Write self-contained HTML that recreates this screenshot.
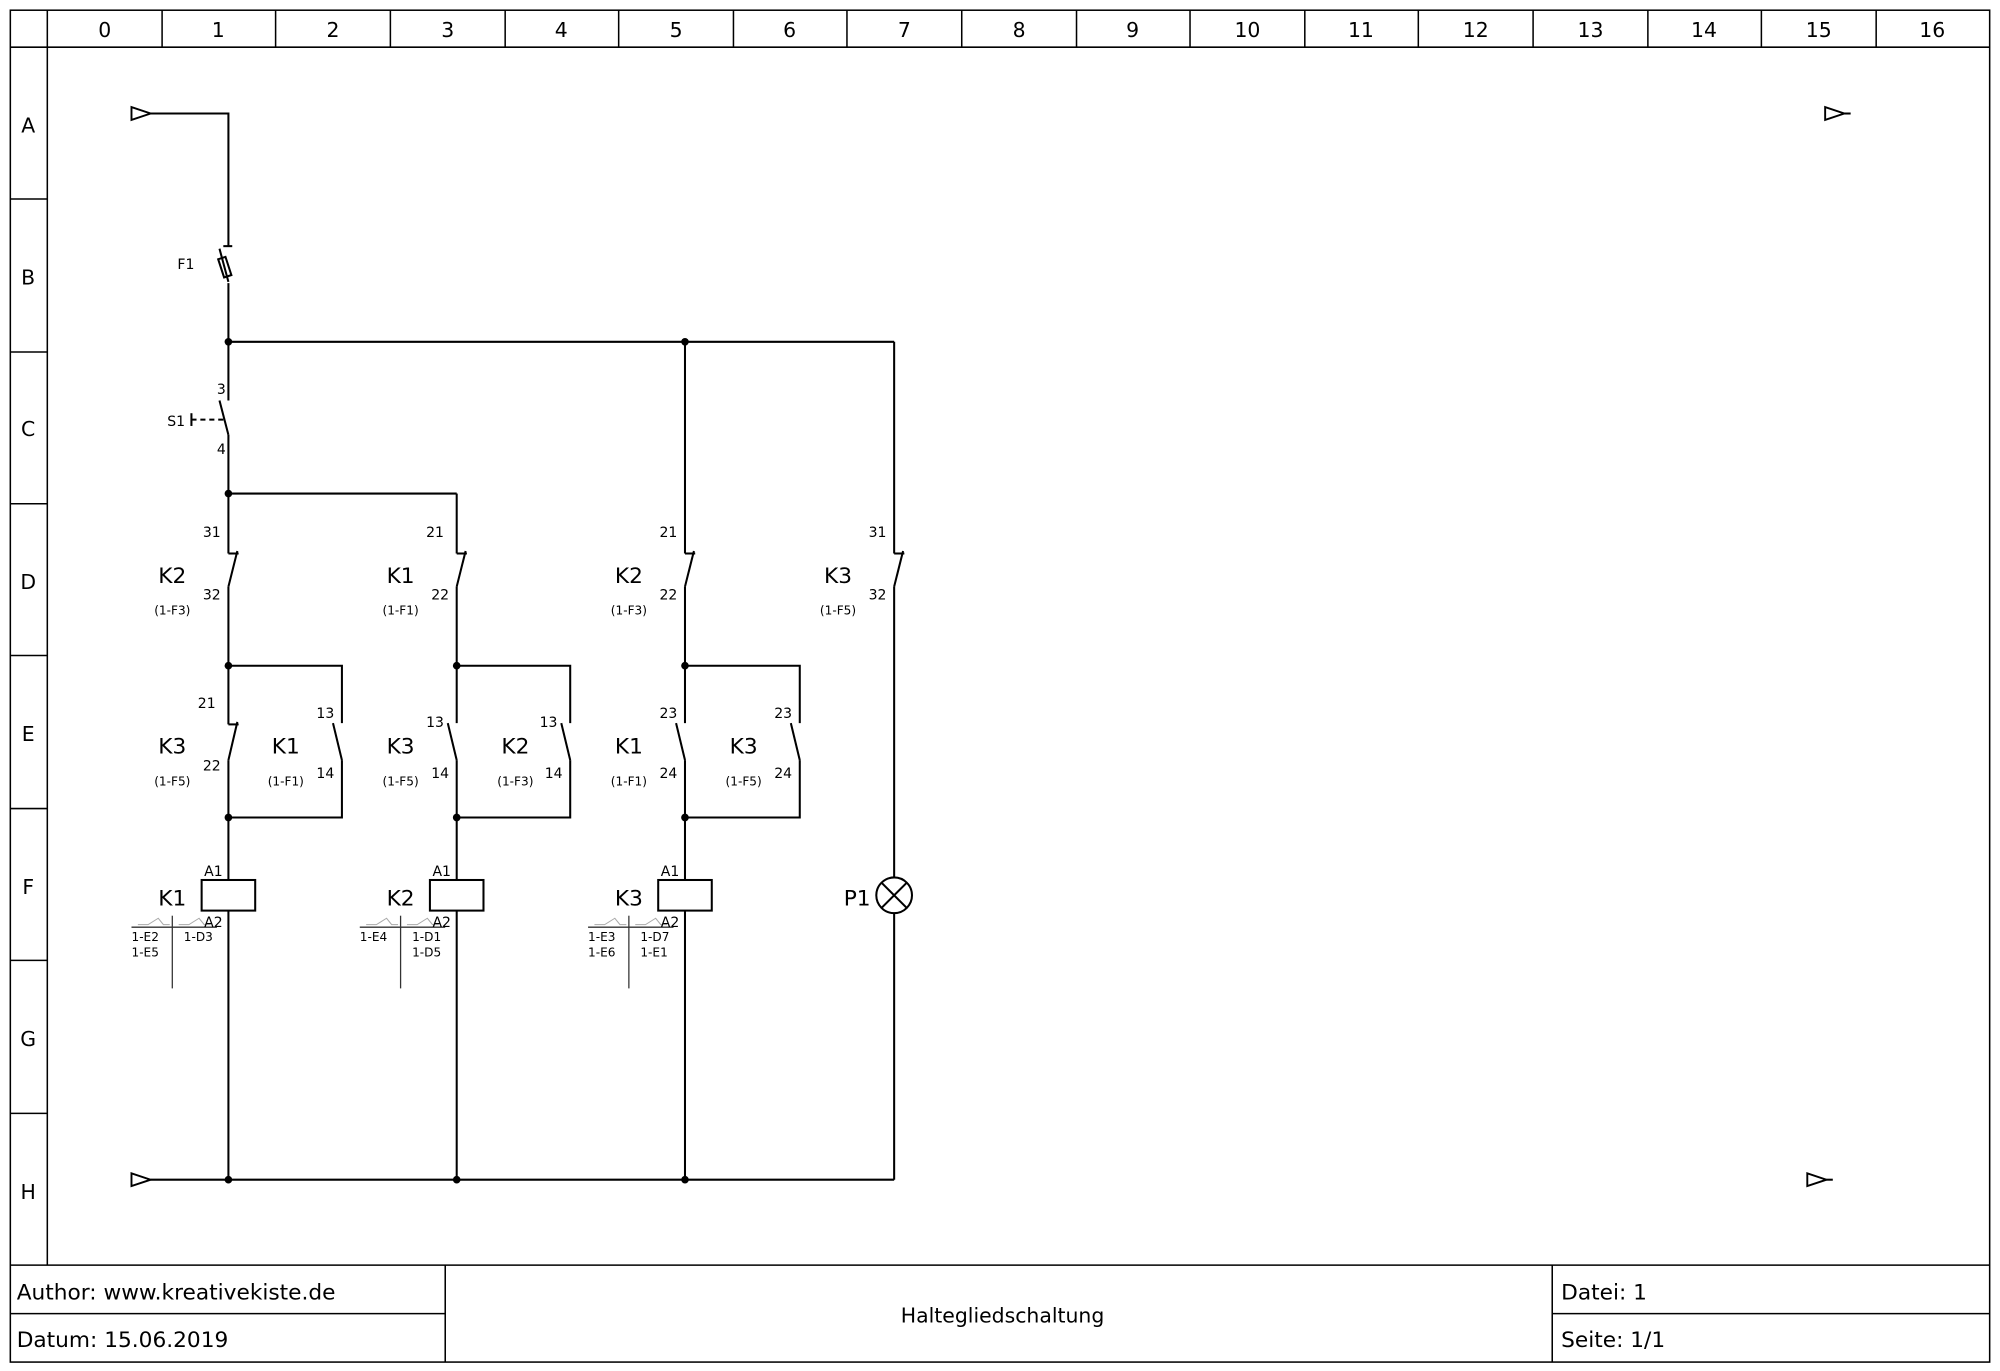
<!DOCTYPE html>
<html><head><meta charset="utf-8"><style>
html,body{margin:0;padding:0;background:#fff;}
svg{display:block;}
text{font-family:"DejaVu Sans","Liberation Sans",sans-serif;fill:#000;}
</style></head><body>
<svg width="2000" height="1371" viewBox="0 0 1568 1075" xmlns="http://www.w3.org/2000/svg">
<rect x="0" y="0" width="1568" height="1075" fill="#fff"/>
<g stroke="#000" stroke-width="1.2" fill="none">
<rect x="8" y="8" width="1552" height="1060"/>
<line x1="37" y1="8" x2="37" y2="992"/>
<line x1="8" y1="37" x2="1560" y2="37"/>
<line x1="8" y1="992" x2="1560" y2="992"/>
<line x1="8" y1="1030" x2="349" y2="1030"/>
<line x1="1217" y1="1030" x2="1560" y2="1030"/>
<line x1="349" y1="992" x2="349" y2="1068"/>
<line x1="1217" y1="992" x2="1217" y2="1068"/>
<line x1="127" y1="8" x2="127" y2="37"/><line x1="216" y1="8" x2="216" y2="37"/><line x1="306" y1="8" x2="306" y2="37"/><line x1="396" y1="8" x2="396" y2="37"/><line x1="485" y1="8" x2="485" y2="37"/><line x1="575" y1="8" x2="575" y2="37"/><line x1="664" y1="8" x2="664" y2="37"/><line x1="754" y1="8" x2="754" y2="37"/><line x1="844" y1="8" x2="844" y2="37"/><line x1="933" y1="8" x2="933" y2="37"/><line x1="1023" y1="8" x2="1023" y2="37"/><line x1="1112" y1="8" x2="1112" y2="37"/><line x1="1202" y1="8" x2="1202" y2="37"/><line x1="1292" y1="8" x2="1292" y2="37"/><line x1="1381" y1="8" x2="1381" y2="37"/><line x1="1471" y1="8" x2="1471" y2="37"/>
<line x1="8" y1="156" x2="37" y2="156"/><line x1="8" y1="276" x2="37" y2="276"/><line x1="8" y1="395" x2="37" y2="395"/><line x1="8" y1="514" x2="37" y2="514"/><line x1="8" y1="634" x2="37" y2="634"/><line x1="8" y1="753" x2="37" y2="753"/><line x1="8" y1="873" x2="37" y2="873"/>
</g>
<g font-size="16" text-anchor="middle">
<text x="82" y="29">0</text><text x="171" y="29">1</text><text x="261" y="29">2</text><text x="351" y="29">3</text><text x="440" y="29">4</text><text x="530" y="29">5</text><text x="619" y="29">6</text><text x="709" y="29">7</text><text x="799" y="29">8</text><text x="888" y="29">9</text><text x="978" y="29">10</text><text x="1067" y="29">11</text><text x="1157" y="29">12</text><text x="1247" y="29">13</text><text x="1336" y="29">14</text><text x="1426" y="29">15</text><text x="1515" y="29">16</text>
<text x="22" y="104">A</text><text x="22" y="223">B</text><text x="22" y="342">C</text><text x="22" y="462">D</text><text x="22" y="581">E</text><text x="22" y="701">F</text><text x="22" y="820">G</text><text x="22" y="940">H</text>
</g>
<g font-size="17">
<text x="13" y="1019">Author: www.kreativekiste.de</text>
<text x="13" y="1056">Datum: 15.06.2019</text>
<text x="1224" y="1019">Datei: 1</text>
<text x="1224" y="1056">Seite: 1/1</text>
<text x="786" y="1037" text-anchor="middle" font-size="16">Haltegliedschaltung</text>
</g>

<g stroke="#000" stroke-width="1.6" fill="none">
<polygon points="103,84 103,94 118,89" stroke-width="1.5"/>
<polyline points="118,89 179,89 179,193"/>
<line x1="175" y1="193" x2="182" y2="193"/>
<line x1="172" y1="195" x2="179" y2="221"/>
<rect x="-3" y="-7" width="6" height="15" transform="translate(176,209) rotate(-18)"/>
<line x1="179" y1="222" x2="179" y2="314"/>
<line x1="179" y1="268" x2="701" y2="268"/>
<line x1="537" y1="268" x2="537" y2="434"/>
<line x1="701" y1="268" x2="701" y2="434"/>
<line x1="172" y1="314" x2="179" y2="341"/>
<line x1="150" y1="324" x2="150" y2="334"/>
<line x1="150" y1="329" x2="175" y2="329" stroke-dasharray="4,3"/>
<line x1="179" y1="341" x2="179" y2="434"/>
<line x1="179" y1="387" x2="358" y2="387"/>
<line x1="358" y1="387" x2="358" y2="434"/>
<g transform="translate(179,0)"><line x1="0" y1="434" x2="8" y2="434"/><line x1="7" y1="432" x2="0" y2="460"/><line x1="0" y1="460" x2="0" y2="568"/></g>
<g transform="translate(358,0)"><line x1="0" y1="434" x2="8" y2="434"/><line x1="7" y1="432" x2="0" y2="460"/><line x1="0" y1="460" x2="0" y2="567"/></g>
<g transform="translate(537,0)"><line x1="0" y1="434" x2="8" y2="434"/><line x1="7" y1="432" x2="0" y2="460"/><line x1="0" y1="460" x2="0" y2="567"/></g>
<g transform="translate(701,0)"><line x1="0" y1="434" x2="8" y2="434"/><line x1="7" y1="432" x2="0" y2="460"/><line x1="0" y1="460" x2="0" y2="688"/></g>
<polyline points="179,522 268,522 268,567"/>
<polyline points="358,522 447,522 447,567"/>
<polyline points="537,522 627,522 627,567"/>
<line x1="179" y1="568" x2="187" y2="568"/><line x1="186" y1="566" x2="179" y2="596"/>
<line x1="261" y1="567" x2="268" y2="596"/>
<line x1="351" y1="567" x2="358" y2="596"/>
<line x1="440" y1="567" x2="447" y2="596"/>
<line x1="530" y1="567" x2="537" y2="596"/>
<line x1="620" y1="567" x2="627" y2="596"/>
<polyline points="268,596 268,641 179,641"/>
<polyline points="447,596 447,641 358,641"/>
<polyline points="627,596 627,641 537,641"/>
<line x1="179" y1="596" x2="179" y2="690"/>
<line x1="358" y1="596" x2="358" y2="690"/>
<line x1="537" y1="596" x2="537" y2="690"/>
<rect x="158" y="690" width="42" height="24"/>
<rect x="337" y="690" width="42" height="24"/>
<rect x="516" y="690" width="42" height="24"/>
<line x1="179" y1="714" x2="179" y2="925"/>
<line x1="358" y1="714" x2="358" y2="925"/>
<line x1="537" y1="714" x2="537" y2="925"/>
<circle cx="701" cy="702" r="14"/>
<line x1="691" y1="692" x2="711" y2="712"/><line x1="711" y1="692" x2="691" y2="712"/>
<line x1="701" y1="716" x2="701" y2="925"/>
<polygon points="103,920 103,930 118,925" stroke-width="1.5"/>
<line x1="118" y1="925" x2="701" y2="925"/>
<polygon points="1431,84 1431,94 1446,89" stroke-width="1.5"/>
<line x1="1446" y1="89" x2="1451" y2="89"/>
<polygon points="1417,920 1417,930 1432,925" stroke-width="1.5"/>
<line x1="1432" y1="925" x2="1437" y2="925"/>
</g>
<g fill="#000">
<circle cx="179" cy="268" r="3"/><circle cx="537" cy="268" r="3"/><circle cx="179" cy="387" r="3"/>
<circle cx="179" cy="522" r="3"/><circle cx="358" cy="522" r="3"/><circle cx="537" cy="522" r="3"/>
<circle cx="179" cy="641" r="3"/><circle cx="358" cy="641" r="3"/><circle cx="537" cy="641" r="3"/>
<circle cx="179" cy="925" r="3"/><circle cx="358" cy="925" r="3"/><circle cx="537" cy="925" r="3"/>
</g>
<g stroke="#333" stroke-width="1" fill="none">
<line x1="103" y1="727" x2="170" y2="727"/><line x1="135" y1="718" x2="135" y2="775"/>
<line x1="282" y1="727" x2="349" y2="727"/><line x1="314" y1="718" x2="314" y2="775"/>
<line x1="461" y1="727" x2="528" y2="727"/><line x1="493" y1="718" x2="493" y2="775"/>
</g>
<g stroke="#aaa" stroke-width="0.8" fill="none">
<polyline points="108,725 116,725 124,720 128,725 133,725"/><polyline points="140,725 148,725 156,720 160,725 165,725"/>
<polyline points="287,725 295,725 303,720 307,725 312,725"/><polyline points="319,725 327,725 335,720 339,725 344,725"/>
<polyline points="466,725 474,725 482,720 486,725 491,725"/><polyline points="498,725 506,725 514,720 518,725 523,725"/>
</g>
<g font-size="11">
<text x="139" y="211">F1</text>
<text x="131" y="334">S1</text>
<text x="170" y="309">3</text>
<text x="170" y="356">4</text>
<text x="159" y="421">31</text><text x="159" y="470">32</text>
<text x="334" y="421">21</text><text x="338" y="470">22</text>
<text x="517" y="421">21</text><text x="517" y="470">22</text>
<text x="681" y="421">31</text><text x="681" y="470">32</text>
<text x="155" y="555">21</text><text x="159" y="604">22</text>
<text x="248" y="563">13</text><text x="248" y="610">14</text>
<text x="334" y="570">13</text><text x="338" y="610">14</text>
<text x="423" y="570">13</text><text x="427" y="610">14</text>
<text x="517" y="563">23</text><text x="517" y="610">24</text>
<text x="607" y="563">23</text><text x="607" y="610">24</text>
<text x="160" y="687">A1</text><text x="160" y="727">A2</text>
<text x="339" y="687">A1</text><text x="339" y="727">A2</text>
<text x="518" y="687">A1</text><text x="518" y="727">A2</text>
</g>
<g font-size="17" text-anchor="middle">
<text x="135" y="457">K2</text><text x="314" y="457">K1</text><text x="493" y="457">K2</text><text x="657" y="457">K3</text>
<text x="135" y="591">K3</text><text x="224" y="591">K1</text><text x="314" y="591">K3</text><text x="404" y="591">K2</text><text x="493" y="591">K1</text><text x="583" y="591">K3</text>
<text x="135" y="710">K1</text><text x="314" y="710">K2</text><text x="493" y="710">K3</text><text x="672" y="710">P1</text>
</g>
<g font-size="9.5" text-anchor="middle">
<text x="135" y="482">(1-F3)</text><text x="314" y="482">(1-F1)</text><text x="493" y="482">(1-F3)</text><text x="657" y="482">(1-F5)</text>
<text x="135" y="616">(1-F5)</text><text x="224" y="616">(1-F1)</text><text x="314" y="616">(1-F5)</text><text x="404" y="616">(1-F3)</text><text x="493" y="616">(1-F1)</text><text x="583" y="616">(1-F5)</text>
</g>
<g font-size="9.5">
<text x="103" y="738">1-E2</text><text x="103" y="750">1-E5</text><text x="144" y="738">1-D3</text>
<text x="282" y="738">1-E4</text><text x="323" y="738">1-D1</text><text x="323" y="750">1-D5</text>
<text x="461" y="738">1-E3</text><text x="461" y="750">1-E6</text><text x="502" y="738">1-D7</text><text x="502" y="750">1-E1</text>
</g>
</svg>
</body></html>
